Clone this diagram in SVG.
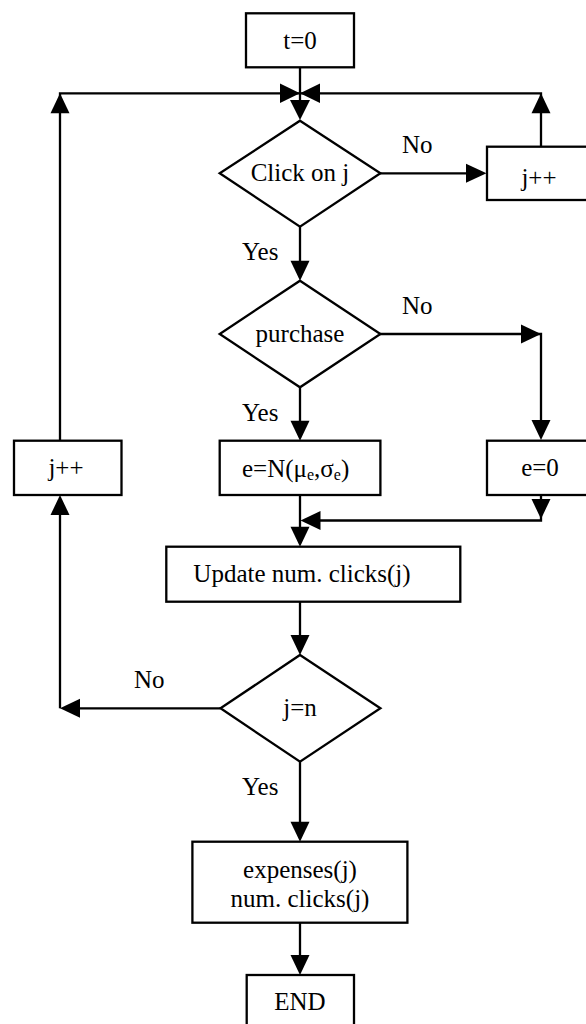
<svg xmlns="http://www.w3.org/2000/svg" width="586" height="1024" viewBox="0 0 586 1024">
<style>
.box{fill:#fff;stroke:#000;stroke-width:2.3}
.ln{fill:none;stroke:#000;stroke-width:2.3}
.ah{fill:#000;stroke:none}
text{font-family:"Liberation Serif","Times New Roman",serif;font-size:25px;fill:#000}
.c{text-anchor:middle}
</style>
<rect width="586" height="1024" fill="#fff"/>
<g id="connectors">
<!-- t=0 down -->
<path class="ln" d="M300,67 V104"/>
<polygon class="ah" points="290,100 310,100 300,120"/>
<!-- top horizontal -->
<path class="ln" d="M60,495 V93.3 H541 V146"/>
<polygon class="ah" points="280,83.5 280,103 300,93.3"/>
<polygon class="ah" points="320,83.5 320,103 300,93.3"/>
<polygon class="ah" points="50.5,113.3 69.5,113.3 60,93.3"/>
<polygon class="ah" points="531.5,113.3 550.5,113.3 541,93.3"/>
<!-- click no -> j++ -->
<path class="ln" d="M380,173.3 H470"/>
<polygon class="ah" points="466,163.8 466,182.8 486.5,173.3"/>
<!-- click yes -> purchase -->
<path class="ln" d="M300,226.7 V265"/>
<polygon class="ah" points="290.5,260.7 309.5,260.7 300,280.7"/>
<!-- purchase no -> e=0 -->
<path class="ln" d="M380,334 H541 V425"/>
<polygon class="ah" points="521,324.5 521,343.5 541,334"/>
<polygon class="ah" points="531.5,420 550.5,420 541,440"/>
<!-- purchase yes -> e=N -->
<path class="ln" d="M300,387.3 V425"/>
<polygon class="ah" points="290.5,420.7 309.5,420.7 300,440.7"/>
<!-- e=0 -> merge -->
<path class="ln" d="M541,495 V520.5 H316"/>
<polygon class="ah" points="531.5,499 550.5,499 541,519"/>
<polygon class="ah" points="320.5,511 320.5,530 300.5,520.5"/>
<!-- e=N -> update -->
<path class="ln" d="M300,495 V531"/>
<polygon class="ah" points="290.5,526.7 309.5,526.7 300,546.7"/>
<!-- update -> j=n -->
<path class="ln" d="M300,601.7 V640"/>
<polygon class="ah" points="290.5,635 309.5,635 300,655"/>
<!-- j=n no -> left -->
<path class="ln" d="M220.5,708.3 H76"/>
<path class="ln" d="M60,708.3 V510"/>
<polygon class="ah" points="80,698.8 80,717.8 60,708.3"/>
<polygon class="ah" points="50.5,515 69.5,515 60,495"/>
<!-- j=n yes -> expenses -->
<path class="ln" d="M300,761.7 V826"/>
<polygon class="ah" points="290.5,821.7 309.5,821.7 300,841.7"/>
<!-- expenses -> END -->
<path class="ln" d="M300,922.7 V960"/>
<polygon class="ah" points="290.5,955 309.5,955 300,975"/>
</g>
<g id="labels">
<text x="402" y="153">No</text>
<text x="242" y="260">Yes</text>
<text x="402" y="314">No</text>
<text x="242" y="421">Yes</text>
<text x="134" y="688">No</text>
<text x="242" y="795">Yes</text>
</g>
<g id="start"><rect class="box" x="246" y="13.3" width="108" height="54"/><text class="c" x="300" y="49">t=0</text></g>
<g id="click"><polygon class="box" points="300,120.7 380.4,173.3 300,226.7 219.7,173.3"/><text class="c" x="300" y="181">Click on j</text></g>
<g id="jpp-right"><rect class="box" x="487" y="146.7" width="107" height="53.3"/><text class="c" x="539" y="186">j++</text></g>
<g id="purchase"><polygon class="box" points="300,280.7 380.4,334 300,387.3 219.7,334"/><text class="c" x="300" y="342">purchase</text></g>
<g id="jpp-left"><rect class="box" x="14" y="440.7" width="107.5" height="54.3"/><text class="c" x="66" y="476">j++</text></g>
<g id="eN"><rect class="box" x="219.7" y="440.7" width="160.7" height="54.3"/><text x="242" y="477">e=N(μ<tspan font-size="16" dy="3">e</tspan><tspan dy="-3">,σ</tspan><tspan font-size="16" dy="3">e</tspan><tspan dy="-3">)</tspan></text></g>
<g id="e0"><rect class="box" x="487" y="440.7" width="107" height="54.3"/><text class="c" x="540" y="476">e=0</text></g>
<g id="update"><rect class="box" x="166.3" y="546.7" width="294" height="55"/><text class="c" x="302" y="582">Update num. clicks(j)</text></g>
<g id="jn"><polygon class="box" points="300,655 380.4,708.3 300,761.7 220.5,708.3"/><text class="c" x="300" y="716">j=n</text></g>
<g id="expenses"><rect class="box" x="192.4" y="841.7" width="215" height="81"/><text class="c" x="300" y="878">expenses(j)</text><text class="c" x="300" y="907">num. clicks(j)</text></g>
<g id="end"><rect class="box" x="246.7" y="975" width="107.3" height="54"/><text class="c" x="300" y="1010">END</text></g>
</svg>
